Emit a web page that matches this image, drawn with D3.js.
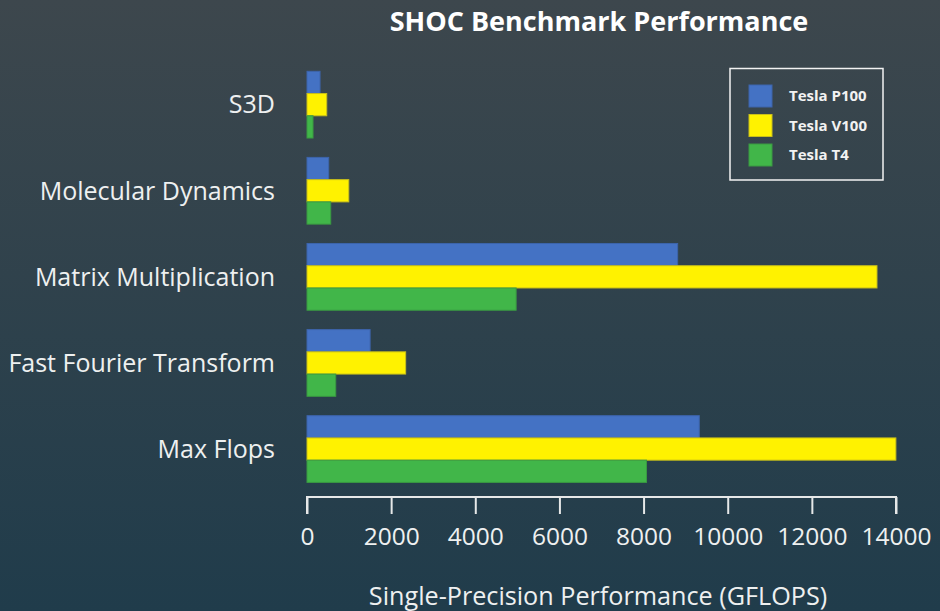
<!DOCTYPE html>
<html>
<head>
<meta charset="utf-8">
<script src="https://cdn.jsdelivr.net/npm/d3@7"></script>
<style>
  body { margin: 0; background: #2e4049; }
  svg { display: block; }
</style>
</head>
<body>
<div id="content"></div>
<script>
var categories = ["S3D", "Molecular Dynamics", "Matrix Multiplication", "Fast Fourier Transform", "Max Flops"];
var seriesNames = ["Tesla P100", "Tesla V100", "Tesla T4"];
var p100 = [310, 516, 8810, 1500, 9324];
var v100 = [469, 993, 13548, 2345, 13997];
var t4 = [143, 564, 4971, 683, 8069];
var ticks = [0, 2000, 4000, 6000, 8000, 10000, 12000, 14000];

var colors = ["#4472c4", "#fff200", "#41b649"];
var strokes = ["#3d64ab", "#c9bf1a", "#3a9a42"];

var width = 940, height = 611;

var svg = d3.select("div#content").append("svg")
  .attr("width", width)
  .attr("height", height);

var grad = svg.append("defs").append("linearGradient")
  .attr("id", "bg")
  .attr("x1", 0).attr("y1", 0).attr("x2", 0).attr("y2", 1);
grad.append("stop").attr("offset", "0%").attr("stop-color", "#3d474d");
grad.append("stop").attr("offset", "100%").attr("stop-color", "#203c4b");

svg.append("rect")
  .attr("width", width)
  .attr("height", height)
  .attr("fill", "url(#bg)");

var x = d3.scaleLinear().domain([0, 14000]).range([307, 896]);

var y = d3.scaleBand()
  .domain(categories)
  .range([71.3, 482.4])
  .paddingInner(0.225)
  .paddingOuter(0);

var ySub = d3.scaleBand()
  .domain(seriesNames)
  .range([0, y.bandwidth()]);

var rows = categories.map(function(c, i) {
  return { category: c, values: [p100[i], v100[i], t4[i]] };
});

// title
svg.append("text")
  .attr("x", 599)
  .attr("y", 31)
  .attr("text-anchor", "middle")
  .attr("font-family", "Open Sans")
  .attr("font-weight", "bold")
  .attr("font-size", 27)
  .attr("fill", "#ffffff")
  .text("SHOC Benchmark Performance");

// bars
var groups = svg.selectAll(".group")
  .data(rows)
  .enter().append("g")
  .attr("class", "group")
  .attr("transform", function(d) { return "translate(0," + y(d.category) + ")"; });

groups.selectAll("rect")
  .data(function(d) { return d.values.map(function(v, j) { return { name: seriesNames[j], value: v, j: j }; }); })
  .enter().append("rect")
  .attr("x", x(0))
  .attr("y", function(d) { return ySub(d.name); })
  .attr("width", function(d) { return x(d.value) - x(0); })
  .attr("height", ySub.bandwidth())
  .attr("fill", function(d) { return colors[d.j]; })
  .attr("stroke", function(d) { return strokes[d.j]; })
  .attr("stroke-width", 1);

// category labels
svg.selectAll(".cat")
  .data(categories)
  .enter().append("text")
  .attr("class", "cat")
  .attr("x", 275)
  .attr("y", function(d) { return y(d) + y.bandwidth() / 2; })
  .attr("dy", "0.35em")
  .attr("text-anchor", "end")
  .attr("font-family", "Open Sans")
  .attr("font-size", 25)
  .attr("fill", "#eef0f0")
  .text(function(d) { return d; });

// x axis
var axis = svg.append("g")
  .attr("class", "x axis")
  .attr("transform", "translate(0,497)")
  .call(d3.axisBottom(x).tickValues(ticks).tickSize(17).tickSizeOuter(17).tickPadding(14).tickFormat(d3.format("d")));

axis.select(".domain").attr("stroke", "#e6e8e8").attr("stroke-width", 2)
  .attr("d", "M" + x(0) + ",17V0H" + x(14000) + "V17");
axis.selectAll(".tick line").attr("stroke", "#e6e8e8").attr("stroke-width", 2);
axis.selectAll(".tick text")
  .attr("fill", "#eef0f0")
  .attr("font-family", "Open Sans")
  .attr("font-size", 24.5);

svg.append("text")
  .attr("x", 598)
  .attr("y", 605)
  .attr("text-anchor", "middle")
  .attr("font-family", "Open Sans")
  .attr("font-size", 25.2)
  .attr("fill", "#eef0f0")
  .text("Single-Precision Performance (GFLOPS)");

// legend
var legend = svg.append("g").attr("class", "legend");

legend.append("rect")
  .attr("x", 730)
  .attr("y", 68.5)
  .attr("width", 153)
  .attr("height", 111.5)
  .attr("fill", "none")
  .attr("stroke", "#f2f2f2")
  .attr("stroke-width", 1.5);

var items = legend.selectAll(".item")
  .data(seriesNames)
  .enter().append("g")
  .attr("class", "item")
  .attr("transform", function(d, i) { return "translate(749," + (85 + i * 29.5) + ")"; });

items.append("rect")
  .attr("width", 23)
  .attr("height", 22)
  .attr("fill", function(d, i) { return colors[i]; })
  .attr("stroke", function(d, i) { return strokes[i]; })
  .attr("stroke-width", 1);

items.append("text")
  .attr("x", 40)
  .attr("y", 11)
  .attr("dy", "0.35em")
  .attr("font-family", "Open Sans")
  .attr("font-weight", "bold")
  .attr("font-size", 15)
  .attr("fill", "#f2f2f2")
  .text(function(d) { return d; });
</script>
</body>
</html>
